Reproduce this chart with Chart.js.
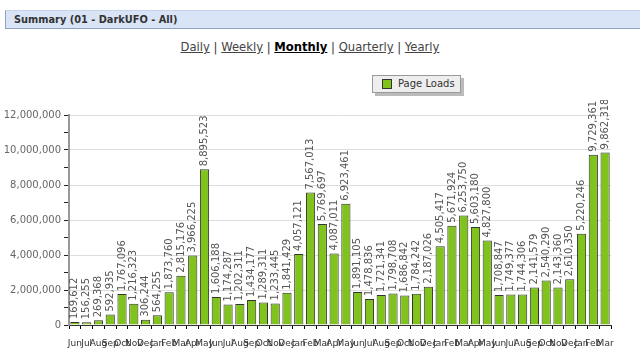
<!DOCTYPE html>
<html>
<head>
<meta charset="utf-8">
<script src="https://cdn.jsdelivr.net/npm/chart.js@4/dist/chart.umd.min.js"></script>
<style>
  html, body { margin: 0; padding: 0; background: #fff; width: 640px; height: 353px; overflow: hidden; font-family: "DejaVu Sans", sans-serif; }
  #header { position: absolute; left: 5px; top: 10px; width: 640px; height: 19px; background: #d9e4f6; border-left: 1px solid #8ea4c4; border-bottom: 1px solid #8ea4c4; border-top: 1px solid #c5d3ea; box-sizing: border-box; font-weight: bold; font-size: 9.8px; color: #333; line-height: 18px; padding-left: 8px; }
  #nav { position: absolute; left: 0; top: 40px; width: 620px; text-align: center; font-size: 11.6px; color: #333; }
  #nav a { color: #444; text-decoration: underline; }
  #nav a.cur { color: #000; font-weight: bold; }
  #legend { position: absolute; left: 372px; top: 75px; width: 89px; height: 18px; background: #eee; border: 1px solid #999; box-shadow: 3px 3px 0 #bbb; box-sizing: border-box; font-size: 10px; color: #333; }
  #legend .sw { position: absolute; left: 9px; top: 3px; width: 10px; height: 10px; background: #7fc31c; border: 1px solid #333; box-sizing: border-box; }
  #legend .tx { position: absolute; left: 25px; top: 2px; }
  #wrap { position: absolute; left: 0; top: 100px; width: 640px; height: 253px; }
</style>
</head>
<body>
<div id="header">Summary (01 - DarkUFO - All)</div>
<div id="nav"><a>Daily</a> | <a>Weekly</a> | <a class="cur">Monthly</a> | <a>Quarterly</a> | <a>Yearly</a></div>
<div id="legend"><span class="sw"></span><span class="tx">Page Loads</span></div>
<div id="wrap"><canvas id="chart" width="640" height="253"></canvas></div>
<script>
const months = ['Jun', 'Jul', 'Aug', 'Sep', 'Oct', 'Nov', 'Dec', 'Jan', 'Feb', 'Mar', 'Apr', 'May',
                'Jun', 'Jul', 'Aug', 'Sep', 'Oct', 'Nov', 'Dec', 'Jan', 'Feb', 'Mar', 'Apr', 'May',
                'Jun', 'Jul', 'Aug', 'Sep', 'Oct', 'Nov', 'Dec', 'Jan', 'Feb', 'Mar', 'Apr', 'May',
                'Jun', 'Jul', 'Aug', 'Sep', 'Oct', 'Nov', 'Dec', 'Jan', 'Feb', 'Mar'];
const pageLoads = [169612, 156255, 269368, 592935, 1767096, 1216323, 306244, 564255, 1873760, 2815176, 3966225, 8895523,
                   1606188, 1174287, 1202311, 1434177, 1289311, 1233445, 1841429, 4057121, 7567013, 5769697, 4087011, 6923461,
                   1891105, 1478836, 1721341, 1798708, 1686842, 1784242, 2187026, 4505417, 5671924, 6253750, 5603180, 4827800,
                   1708847, 1749377, 1744306, 2141579, 2540290, 2143360, 2610350, 5220246, 9729361, 9862318];
const yMax = 12000000;
const yStep = 1000000;

const fmt = v => v.toLocaleString('en-US');

// valeurs verticales au-dessus des barres
const barLabels = {
    id: 'barLabels',
    afterDatasetsDraw(chart) {
        const ctx = chart.ctx;
        const meta = chart.getDatasetMeta(0);
        ctx.save();
        ctx.font = '10px "DejaVu Sans", sans-serif';
        ctx.fillStyle = '#555';
        ctx.textAlign = 'left';
        ctx.textBaseline = 'middle';
        meta.data.forEach((bar, i) => {
            ctx.save();
            ctx.translate(bar.x, bar.y - 3);
            ctx.rotate(-Math.PI / 2);
            ctx.fillText(fmt(chart.data.datasets[0].data[i]), 0, 0);
            ctx.restore();
        });
        ctx.restore();
    }
};

new Chart(document.getElementById('chart'), {
    type: 'bar',
    data: {
        labels: months,
        datasets: [{
            label: 'Page Loads',
            data: pageLoads,
            backgroundColor: '#7fc31c',
            borderColor: '#333',
            borderWidth: 1,
            barPercentage: 0.78,
            categoryPercentage: 1
        }]
    },
    options: {
        responsive: false,
        animation: false,
        layout: { padding: { top: 15, right: 29, left: 0, bottom: 0 } },
        plugins: {
            legend: { display: false },
            tooltip: { enabled: false }
        },
        scales: {
            x: {
                afterFit: s => { s.height = 28; },
                border: { color: '#333', width: 1 },
                grid: { offset: true, drawOnChartArea: false, drawTicks: true, tickLength: 4, tickColor: '#000' },
                ticks: {
                    autoSkip: false, maxRotation: 0, minRotation: 0, padding: 9,
                    color: '#333', font: { family: 'DejaVu Sans', size: 9 }
                }
            },
            y: {
                min: 0,
                max: yMax,
                afterFit: s => { s.width = 69; },
                border: { color: '#999', width: 2 },
                grid: {
                    color: c => (c.tick && c.tick.value % 2000000 === 0 && c.tick.value > 0) ? '#ddd' : 'rgba(0,0,0,0)',
                    tickColor: '#222',
                    tickLength: 5
                },
                ticks: {
                    stepSize: yStep,
                    padding: 3,
                    color: '#666',
                    font: { family: 'DejaVu Sans', size: 10 },
                    callback: v => v % 2000000 === 0 ? fmt(v) : ''
                }
            }
        }
    },
    plugins: [barLabels]
});
</script>
</body>
</html>
